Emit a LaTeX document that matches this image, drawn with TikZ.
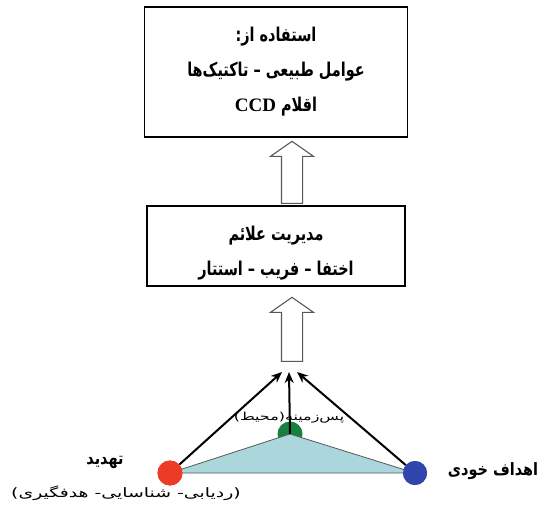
\documentclass[tikz,border=0pt]{standalone}
\usepackage{xcolor}
\usepackage{fontspec}
\setmainfont{DejaVu Sans}
\newfontfamily\arabicfont[Script=Arabic, FakeStretch=0.85]{DejaVu Sans}
\newfontfamily\boxfont[Script=Arabic, FakeStretch=0.76]{DejaVu Sans}
\newfontfamily\widefont[Script=Arabic, FakeStretch=1.45]{DejaVu Sans}
\newfontfamily\latinserif{Liberation Serif}
\TeXXeTstate=1
\usetikzlibrary{shapes.arrows, arrows.meta, positioning, calc}
\definecolor{threatred}{RGB}{236, 60, 38}
\definecolor{groundgreen}{RGB}{22, 128, 62}
\definecolor{ownblue}{RGB}{48, 70, 172}
\definecolor{fieldblue}{RGB}{170, 214, 220}

\tikzset{
    infobox/.style={draw=black, line width=1.3pt, fill=white, align=center,
        font=\boxfont\bfseries\fontsize{19}{35}\selectfont},
    hollowup/.style={single arrow, draw=black!65, line width=1.1pt, fill=white,
        rotate=90, inner sep=10pt, single arrow head extend=11pt,
        single arrow tip angle=110},
    spot/.style={circle, inner sep=0pt, minimum size=25pt},
    pointer/.style={-{Stealth[length=11pt, width=9pt]}, line width=2pt, black},
    tag/.style={font=\arabicfont\bfseries\fontsize{17}{19}\selectfont}
}

\begin{document}
\begin{tikzpicture}[x=1pt, y=-1pt]
    \useasboundingbox (0,0) rectangle (549,508);

    % boxes
    \node[infobox, minimum width=263pt, minimum height=130pt] (use) at (276,72) {
        \beginR استفاده از:\endR\\
        \beginR عوامل طبیعی – تاکتیک‌ها\endR\\
        \beginR اقلام \beginL{\latinserif\fontsize{19}{20}\selectfont CCD}\endL\endR
    };
    \node[infobox, minimum width=258pt, minimum height=80pt] (signs) at (276,246) {
        \rule{0pt}{28pt}\beginR مدیریت علائم\endR\\
        \beginR اختفا – فریب – استتار\endR
    };

    % hollow arrows
    \node[hollowup, minimum height=62pt] (up1) at (292,176) {};
    \node[hollowup, minimum height=64pt] (up2) at (292,333) {};

    % triangle of threat, background and own targets
    \node[spot, fill=groundgreen] (ground) at (290,434) {};
    \node[spot, fill=threatred] (threat) at (170,473) {};
    \node[spot, fill=ownblue, minimum size=24pt] (own) at (415,473) {};
    \fill[fieldblue, draw=black!65, line width=0.8pt]
        (threat.center) -- (ground.center) -- (own.center) -- cycle;
    \node[spot, fill=threatred] at (threat) {};
    \node[spot, fill=ownblue, minimum size=24pt] at (own) {};

    \coordinate (tipL) at (282,372);
    \coordinate (tipM) at (289,372);
    \coordinate (tipR) at (297,372);
    \draw[pointer] (threat) -- (tipL);
    \draw[pointer] (ground.center) -- (tipM);
    \draw[pointer] (own) -- (tipR);

    % labels
    \node[tag] (threatname) at (105,462) {\beginR تهدید\endR};
    \node[font=\widefont\fontsize{13}{14}\selectfont] (threatjob) at (126,493)
        {\beginR (ردیابی- شناسایی- هدفگیری)\endR};
    \node[tag] (ownname) at (493,471) {\beginR اهداف خودی\endR};
    \node[font=\widefont\fontsize{11}{12}\selectfont, inner sep=0pt] (groundname) at (289,418)
        {\beginR پس‌زمینه(محیط)\endR};
\end{tikzpicture}
\end{document}
